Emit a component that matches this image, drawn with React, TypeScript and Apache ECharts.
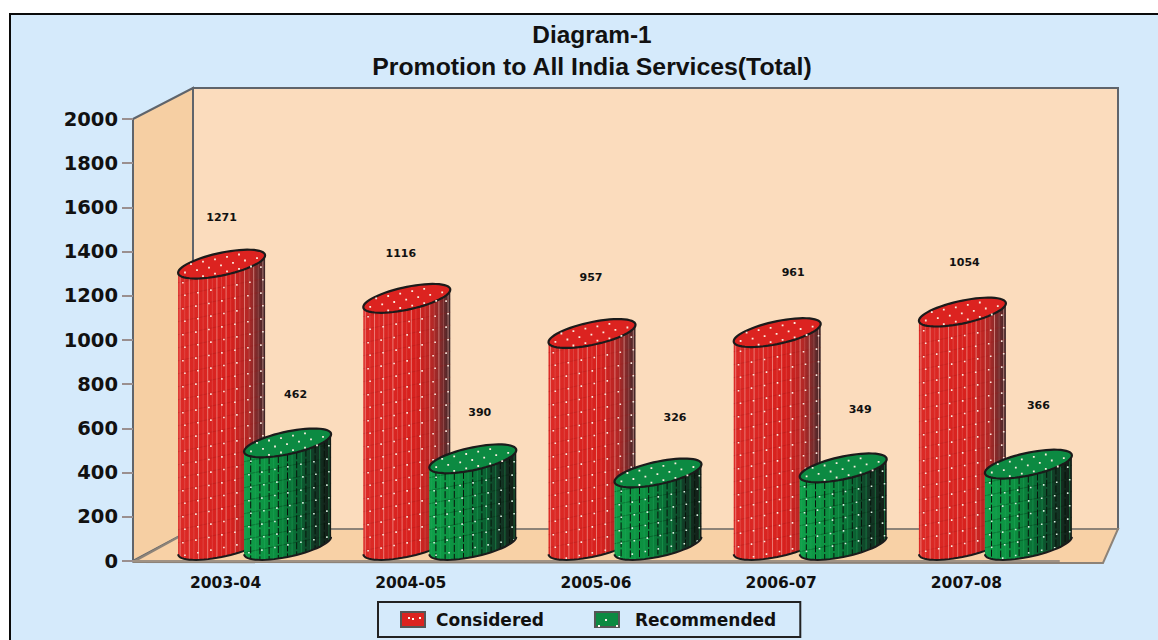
import React, { useEffect, useRef } from "react";
import * as echarts from "echarts";

const years = ["2003-04", "2004-05", "2005-06", "2006-07", "2007-08"];
const considered = [1271, 1116, 957, 961, 1054];
const recommended = [462, 390, 326, 349, 366];
const yTicks = { min: 0, max: 2000, interval: 200 };

// label nudges in pixels (layout only), relative to the cylinder centre
const consideredNudgeX = [0, -6, -1, 16, 2];
const consideredNudgeY = [-63, -61, -72, -76, -66];
const recommendedNudgeX = [8, 7, 17, 17, 10];
const recommendedNudgeY = [-64, -62, -71, -74, -75];

const FONT = "'DejaVu Sans', sans-serif";
const TITLE_FONT = "'Liberation Sans', Arial, sans-serif";
const A = 43.5; // half width of cylinder
const B = 11.5; // ellipse half height
const K = 0.2; // ellipse shear

const ell = (cx: number, cy: number, n = 60) => {
  const pts: number[][] = [];
  for (let i = 0; i < n; i++) {
    const t = (i / n) * Math.PI * 2;
    pts.push([cx + A * Math.cos(t), cy - K * A * Math.cos(t) + B * Math.sin(t)]);
  }
  return pts;
};
const front = (cx: number, cy: number, n = 30) => {
  const pts: number[][] = [];
  for (let i = 0; i <= n; i++) {
    const t = (i / n) * Math.PI;
    pts.push([cx + A * Math.cos(t), cy - K * A * Math.cos(t) + B * Math.sin(t)]);
  }
  return pts;
};
const frontY = (dx: number, cy: number) =>
  cy - K * dx + B * Math.sqrt(Math.max(0, 1 - (dx / A) ** 2));

function makeRender(
  offset: number,
  palette: any,
  nudgeX: number[],
  nudgeY: number[]
) {
  return (params: any, api: any) => {
    const idx = api.value(0);
    const val = api.value(1);
    const p = api.coord([idx, val]);
    const base = api.coord([idx, 0]);
    const cx = p[0] + offset;
    const topY = p[1] - 16;
    const baseY = base[1] - 15.5;

    const body = [...front(cx, topY).reverse(), ...front(cx, baseY)];
    let light = "";
    let dark = "";
    const step = 4.6;
    for (let dx = -A + 2; dx < A; dx += step) {
      const d = `M${(cx + dx).toFixed(1)} ${frontY(dx, topY).toFixed(1)}L${(cx + dx).toFixed(1)} ${frontY(dx, baseY).toFixed(1)}`;
      const i = Math.round((dx + A) / step);
      if (i % 2 === 0) light += d;
      else dark += d;
    }
    let rows = "";
    let dots = "";
    for (let y = Math.round(topY) + 10; y < baseY + 16; y += 13) {
      for (let dx = -A + 4; dx < A; dx += 13) {
        const d0 = dx + ((y % 2) * 2);
        if (Math.abs(d0) >= A) continue;
        const yy = y - K * d0;
        if (yy > frontY(d0, baseY) - 2) continue;
        if (yy < frontY(d0, topY) + 2) continue;
        dots += `M${(cx + d0).toFixed(1)} ${yy.toFixed(1)}h1.6v1.6h-1.6z`;
      }
      if (y < baseY)
        rows += `M${(cx - A).toFixed(1)} ${(y + K * A).toFixed(1)}L${(cx + A).toFixed(1)} ${(y - K * A).toFixed(1)}`;
    }
    let topDots = "";
    for (let u = -A + 6; u < A - 3; u += 12) {
      for (let v = -6; v <= 6; v += 6) {
        const lim = B * Math.sqrt(Math.max(0, 1 - (u / A) ** 2));
        if (Math.abs(v) > lim - 1.5) continue;
        topDots += `M${(cx + u + v).toFixed(1)} ${(topY - K * u + v).toFixed(1)}h1.8v1.8h-1.8z`;
      }
    }
    const children: any[] = [
      {
        type: "polygon",
        shape: { points: body },
        style: {
          fill: new echarts.graphic.LinearGradient(0, 0, 1, 0, palette.stops),
          stroke: null,
        },
      },
      { type: "path", shape: { pathData: rows }, style: { fill: "none", stroke: palette.rows, lineWidth: 1 } },
      { type: "path", shape: { pathData: light }, style: { fill: "none", stroke: palette.light, lineWidth: 1 } },
      { type: "path", shape: { pathData: dark }, style: { fill: "none", stroke: palette.dark, lineWidth: 1, lineDash: palette.dash } },
      { type: "path", shape: { pathData: dots }, style: { fill: palette.dot } },
      { type: "polyline", shape: { points: front(cx, baseY) }, style: { fill: "none", stroke: "#1b1b1b", lineWidth: 2 } },
      { type: "polygon", shape: { points: ell(cx, topY) }, style: { fill: palette.top, stroke: "#1b1b1b", lineWidth: 2.2 } },
      { type: "path", shape: { pathData: topDots }, style: { fill: "#fbeee0" } },
      {
        type: "text",
        style: {
          text: String(val),
          x: cx + nudgeX[idx],
          y: p[1] + nudgeY[idx],
          align: "center",
          verticalAlign: "middle",
          fontFamily: FONT,
          fontWeight: "bold",
          fontSize: 11,
          fill: "#111",
        },
      },
    ];
    return { type: "group", children };
  };
}

const redPalette = {
  stops: [
    { offset: 0, color: "#dc2b27" },
    { offset: 0.6, color: "#d8201d" },
    { offset: 0.8, color: "#b32826" },
    { offset: 0.93, color: "#6d2b2c" },
    { offset: 1, color: "#3a2526" },
  ],
  rows: "rgba(150,20,20,0.25)",
  light: "rgba(250,190,180,0.55)",
  dark: "rgba(240,170,165,0.22)",
  dash: null,
  dot: "#fbe9df",
  top: "#dc2320",
};
const greenPalette = {
  stops: [
    { offset: 0, color: "#10a04a" },
    { offset: 0.35, color: "#0c8f40" },
    { offset: 0.6, color: "#0a6a35" },
    { offset: 0.8, color: "#123a26" },
    { offset: 1, color: "#141a16" },
  ],
  rows: "rgba(0,30,10,0.3)",
  light: "rgba(30,170,90,0.5)",
  dark: "#08140c",
  dash: [7, 2],
  dot: "#d8f0e0",
  top: "#0c8a42",
};

const legendDot = (x: number, y: number) => ({
  type: "rect",
  z: 100,
  silent: true,
  shape: { x, y, width: 2, height: 2 },
  style: { fill: "#fff6ee" },
});

export default function App() {
  const ref = useRef<HTMLDivElement>(null);
  useEffect(() => {
    const chart = echarts.init(ref.current!, undefined, { renderer: "svg" });
    const edge = "#5f646b";
    chart.setOption({
      animation: false,
      backgroundColor: "#ffffff",
      title: {
        text: "Diagram-1",
        subtext: "Promotion to All India Services(Total)",
        left: 587,
        top: 17,
        textAlign: "center",
        itemGap: 8,
        textStyle: { fontFamily: TITLE_FONT, fontWeight: "bold", fontSize: 24.4, color: "#111" },
        subtextStyle: { fontFamily: TITLE_FONT, fontWeight: "bold", fontSize: 24.8, color: "#111" },
      },
      grid: { left: 133, top: 119, width: 926, height: 442 },
      xAxis: {
        type: "category",
        data: years,
        axisLine: { lineStyle: { color: "#a09284", width: 2 } },
        axisTick: { length: 6, lineStyle: { color: "#9a9a9a" } },
        axisLabel: { fontFamily: FONT, fontWeight: "bold", fontSize: 15.5, color: "#111", margin: 14 },
      },
      yAxis: {
        type: "value",
        min: yTicks.min,
        max: yTicks.max,
        interval: yTicks.interval,
        splitLine: { show: false },
        axisLine: { show: true, lineStyle: { color: edge, width: 2 } },
        axisTick: { show: true, length: 11, lineStyle: { color: "#9a8f8f", width: 2 } },
        axisLabel: {
          formatter: (v: number) => String(v),
          fontFamily: FONT,
          fontWeight: "bold",
          fontSize: 19.5,
          color: "#111",
          margin: 15,
        },
      },
      legend: {
        left: 378,
        top: 602,
        orient: "horizontal",
        padding: [9, 24, 9, 22],
        itemGap: 50,
        itemWidth: 24,
        itemHeight: 15,
        borderColor: "#222",
        borderWidth: 2,
        icon: "rect",
        textStyle: { fontFamily: FONT, fontWeight: "bold", fontSize: 17, color: "#111", padding: [0, 0, 0, 6] },
        data: [
          { name: "Considered" },
          { name: "Recommended", textStyle: { padding: [0, 0, 0, 11] } },
        ],
      },
      graphic: {
        elements: [
          { type: "rect", z: -20, shape: { x: 10, y: 14, width: 1150, height: 628 }, style: { fill: "#d5eafb", stroke: "#0a0a0a", lineWidth: 2 } },
          { type: "polygon", z: -19, shape: { points: [[193, 88], [1118, 88], [1118, 529], [193, 529]] }, style: { fill: "#fbdcbd", stroke: edge, lineWidth: 2 } },
          { type: "polygon", z: -19, shape: { points: [[133, 119], [193, 88], [193, 529], [133, 561]] }, style: { fill: "#f6cfa3", stroke: edge, lineWidth: 2 } },
          { type: "polygon", z: -18, shape: { points: [[133, 562], [193, 529], [1118, 529], [1103, 563]] }, style: { fill: "#f8d1a6", stroke: "#8d8378", lineWidth: 2 } },
          legendDot(408, 617),
          legendDot(412, 618),
          legendDot(419, 617),
          legendDot(605, 619),
          legendDot(598, 625),
          legendDot(616, 625),
        ],
      },
      series: [
        {
          name: "Considered",
          type: "custom",
          z: 3,
          silent: true,
          itemStyle: { color: "#dc2320", borderColor: "#555", borderWidth: 1 },
          data: considered.map((v, i) => [i, v]),
          encode: { x: 0, y: 1 },
          renderItem: makeRender(-4, redPalette, consideredNudgeX, consideredNudgeY),
        },
        {
          name: "Recommended",
          type: "custom",
          z: 4,
          silent: true,
          itemStyle: { color: "#0c8a42", borderColor: "#555", borderWidth: 1 },
          data: recommended.map((v, i) => [i, v]),
          encode: { x: 0, y: 1 },
          renderItem: makeRender(62, greenPalette, recommendedNudgeX, recommendedNudgeY),
        },
      ],
    });
    return () => chart.dispose();
  }, []);
  return (
    <div
      ref={ref}
      style={{ position: "fixed", left: 0, top: 0, width: 1158, height: 640 }}
    />
  );
}
